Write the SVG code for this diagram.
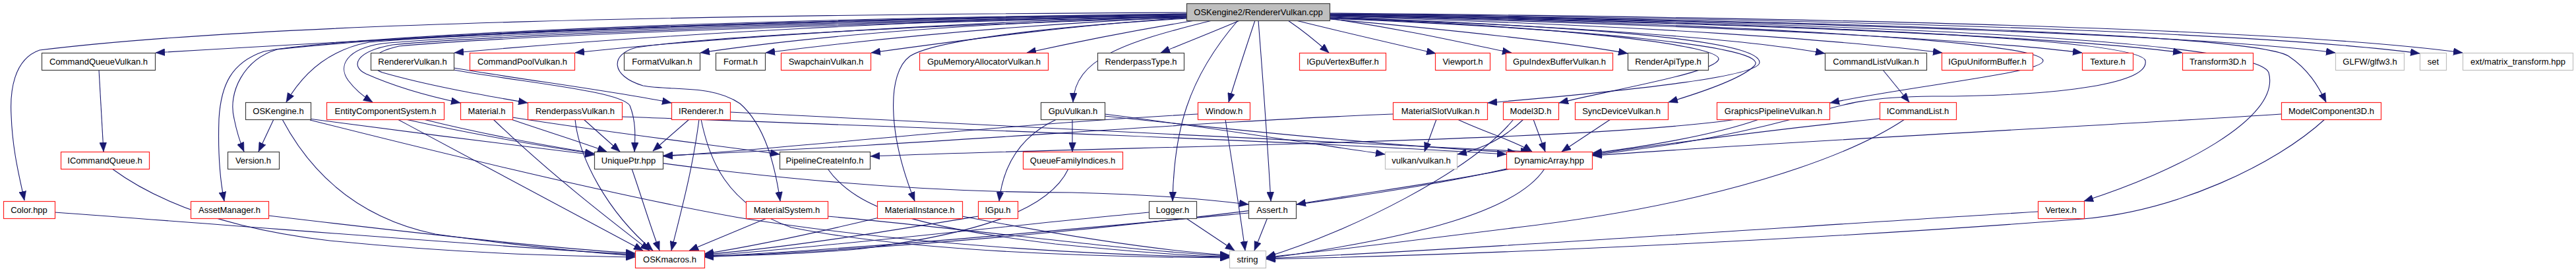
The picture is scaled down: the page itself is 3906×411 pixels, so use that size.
<svg xmlns="http://www.w3.org/2000/svg" width="3906" height="411" viewBox="0 0 3906 411">
<style>
.n rect{stroke-width:1.2}
.k rect{fill:#fff;stroke:#404040}
.r rect{fill:#fff;stroke:#ff2020}
.g rect{fill:#fff;stroke:#bfbfbf}
.root rect{fill:#bfbfbf;stroke:#404040}
text{font-family:"Liberation Sans",Arial,Helvetica,sans-serif;font-size:13px;fill:#000;text-anchor:middle}
#edges path{fill:none;stroke:#191970;stroke-width:1.1;marker-end:url(#ah)}
</style>
<defs>
<marker id="ah" markerUnits="userSpaceOnUse" markerWidth="15" markerHeight="11" refX="14" refY="5.5" orient="auto">
<path d="M0,0 L14,5.5 L0,11 z" fill="#191970" stroke="#191970" stroke-width="0.5"/>
</marker>
</defs>
<rect width="3906" height="411" fill="#fff"/>
<g id="edges">
<path d="M1799,21 C1100,30 600,58 236,80"/>
<path d="M1799,19 C1100,22 400,34 60,76 C20,90 15,140 17,175 C19,230 30,270 37,304"/>
<path d="M1799,22 C1400,30 1000,52 689,80"/>
<path d="M1799,24 C1500,32 1100,55 872,80"/>
<path d="M1799,25 C1500,34 1250,52 1062,80"/>
<path d="M1799,26 C1550,37 1350,56 1161,80"/>
<path d="M1799,27 C1650,36 1480,58 1321,80"/>
<path d="M1812,31 C1720,46 1630,64 1557,80"/>
<path d="M1880,31 C1840,48 1800,64 1760,80"/>
<path d="M1953,31 C1975,46 1995,62 2015,80"/>
<path d="M1965,31 C2050,52 2120,68 2177,81"/>
<path d="M2016,28 C2150,48 2230,68 2292,80"/>
<path d="M2016,29 C2200,45 2380,65 2468,81"/>
<path d="M2016,27 C2400,40 2650,60 2767,81"/>
<path d="M2016,25 C2500,38 2800,62 2945,80"/>
<path d="M2016,24 C2600,38 3000,60 3157,80"/>
<path d="M2016,23 C2700,36 3150,58 3309,80"/>
<path d="M2016,22 C2800,33 3350,55 3541,80"/>
<path d="M2016,21 C2900,30 3450,52 3669,81"/>
<path d="M2016,20 C2900,28 3500,48 3734,80"/>
<path d="M1799,23 C1200,30 700,52 560,64 C500,75 460,110 434,155"/>
<path d="M1799,24 C1200,32 700,54 580,66 C525,74 512,100 528,122 C540,138 552,147 565,155"/>
<path d="M1799,25 C1200,34 720,56 595,68 C540,78 530,100 555,112 C600,132 650,146 698,156"/>
<path d="M1799,26 C1200,36 730,58 605,70 C560,80 552,100 580,110 C650,130 730,144 800,156"/>
<path d="M688,103 C800,122 930,138 1018,156"/>
<path d="M688,106 C800,126 940,138 955,160 C965,185 963,210 962,230"/>
<path d="M1799,27 C1400,38 1060,57 965,72 C925,82 925,115 975,130 C1020,138 1080,128 1122,157 C1160,190 1175,250 1183,305"/>
<path d="M1799,28 C1600,40 1420,60 1380,85 C1345,110 1345,200 1387,305"/>
<path d="M1838,31 C1700,65 1630,90 1627,155"/>
<path d="M1903,31 C1890,70 1875,115 1863,155"/>
<path d="M1877,31 C1800,120 1780,200 1778,305"/>
<path d="M1908,31 C1915,120 1922,220 1927,305"/>
<path d="M1799,22 C1000,33 600,55 420,75 C370,90 345,140 355,180 C360,205 365,218 370,230"/>
<path d="M1799,21 C1000,30 500,58 400,78 C350,95 335,130 332,180 C330,240 335,280 340,305"/>
<path d="M2016,26 C2400,40 2670,60 2668,95 C2666,115 2500,135 2256,156"/>
<path d="M2016,27 C2400,42 2610,70 2606,90 C2600,110 2450,135 2364,156"/>
<path d="M2016,28 C2400,44 2690,70 2660,100 C2640,120 2580,140 2530,155"/>
<path d="M2016,24 C2600,34 3095,62 3098,92 C3100,110 2900,130 2775,156"/>
<path d="M2016,23 C2700,34 3245,58 3253,92 C3260,130 3100,146 2930,146 C2820,147 2790,160 2720,180 C2600,212 2500,225 2415,235"/>
<path d="M2016,22 C2800,34 3420,60 3440,110 C3460,180 3300,260 3160,305"/>
<path d="M2016,21 C2900,34 3420,55 3470,85 C3500,105 3515,130 3527,155"/>
<path d="M150,106 L157,230"/>
<path d="M170,256 C230,300 330,345 500,365 C700,385 850,388 963,390"/>
<path d="M83,322 C400,345 800,378 963,386"/>
<path d="M407,327 C600,350 850,378 963,384"/>
<path d="M415,181 L392,230"/>
<path d="M428,181 C470,260 540,330 660,355 C800,375 900,383 963,388"/>
<path d="M468,180 C600,198 780,220 901,235"/>
<path d="M470,182 C700,240 950,300 1120,330 C1400,375 1700,388 1864,390"/>
<path d="M603,181 C750,260 900,340 975,380"/>
<path d="M615,181 C700,200 820,222 901,233"/>
<path d="M642,181 C900,245 1300,292 1625,292 C1750,295 1830,302 1893,310"/>
<path d="M748,181 C830,260 920,330 985,380"/>
<path d="M772,180 C830,200 880,215 920,230"/>
<path d="M777,178 C950,205 1100,222 1182,234"/>
<path d="M943,177 C1300,190 2000,215 2284,234"/>
<path d="M872,181 C878,240 920,320 990,380"/>
<path d="M885,181 L940,230"/>
<path d="M1045,181 L990,229"/>
<path d="M1060,181 C1050,260 1030,330 1018,380"/>
<path d="M1063,181 C1075,240 1100,310 1200,345 C1400,385 1700,390 1864,391"/>
<path d="M1107,170 C1400,185 2000,215 2320,230"/>
<path d="M958,256 C970,290 985,340 1000,380"/>
<path d="M1255,256 C1300,320 1400,345 1600,370 C1750,385 1820,389 1864,389"/>
<path d="M1165,330 L1045,380"/>
<path d="M1255,328 C1500,350 1700,380 1864,388"/>
<path d="M1333,330 C1250,350 1150,372 1068,385"/>
<path d="M1459,328 C1600,355 1750,380 1864,387"/>
<path d="M1483,328 C1350,350 1200,375 1068,386"/>
<path d="M1620,256 C1590,320 1480,355 1300,378 C1200,386 1120,388 1068,388"/>
<path d="M1626,181 L1626,230"/>
<path d="M1602,181 C1540,210 1520,260 1515,305"/>
<path d="M1675,173 C1850,195 2000,220 2100,234"/>
<path d="M1675,176 C1900,200 2150,225 2300,231"/>
<path d="M1858,181 C1870,260 1880,320 1888,380"/>
<path d="M1816,173 C1500,190 1200,225 1006,237"/>
<path d="M1797,330 L1872,380"/>
<path d="M1742,322 C1500,345 1250,375 1068,388"/>
<path d="M1922,330 L1902,380"/>
<path d="M1893,323 C1600,350 1300,378 1068,389"/>
<path d="M2178,181 L2160,230"/>
<path d="M2210,181 C2250,200 2300,215 2323,230"/>
<path d="M2112,173 C1800,185 1400,220 1006,236"/>
<path d="M2325,181 L2343,230"/>
<path d="M2310,181 C2280,210 2250,225 2210,234"/>
<path d="M2295,181 C2230,260 2050,350 1920,390"/>
<path d="M2442,181 L2368,230"/>
<path d="M2667,181 C2600,205 2480,225 2415,232"/>
<path d="M2633,181 C2400,215 1700,222 1320,237"/>
<path d="M2855,106 L2895,155"/>
<path d="M2850,180 C2700,195 2500,222 2415,234"/>
<path d="M2888,181 C2800,240 2600,310 2300,345 C2100,370 1980,385 1920,390"/>
<path d="M2290,256 C2200,275 2050,295 1966,310"/>
<path d="M2342,256 C2300,320 2150,360 1920,392"/>
<path d="M2284,256 C2100,300 1600,365 1068,390"/>
<path d="M3090,321 C2700,345 2200,380 1920,392"/>
<path d="M3459,173 C3200,190 2700,215 2415,236"/>
<path d="M3525,181 C3450,250 3300,320 3158,332 C2800,360 2300,385 1920,393"/>
</g>
<g id="n0" class="n root"><rect x="1799.5" y="5.5" width="217" height="26"/><text x="1908" y="23">OSKengine2/RendererVulkan.cpp</text></g>
<g id="n1" class="n k"><rect x="63.5" y="80.5" width="172" height="26"/><text x="149.5" y="98">CommandQueueVulkan.h</text></g>
<g id="n2" class="n k"><rect x="562.5" y="80.5" width="126" height="26"/><text x="625.5" y="98">RendererVulkan.h</text></g>
<g id="n3" class="n r"><rect x="712.5" y="80.5" width="159" height="26"/><text x="792" y="98">CommandPoolVulkan.h</text></g>
<g id="n4" class="n k"><rect x="946.5" y="80.5" width="115" height="26"/><text x="1004" y="98">FormatVulkan.h</text></g>
<g id="n5" class="n k"><rect x="1085.5" y="80.5" width="75" height="26"/><text x="1123" y="98">Format.h</text></g>
<g id="n6" class="n r"><rect x="1184.5" y="80.5" width="136" height="26"/><text x="1252.5" y="98">SwapchainVulkan.h</text></g>
<g id="n7" class="n r"><rect x="1394.5" y="80.5" width="195" height="26"/><text x="1492" y="98">GpuMemoryAllocatorVulkan.h</text></g>
<g id="n8" class="n k"><rect x="1664.5" y="80.5" width="131" height="26"/><text x="1730" y="98">RenderpassType.h</text></g>
<g id="n9" class="n r"><rect x="1970.5" y="80.5" width="131" height="26"/><text x="2036" y="98">IGpuVertexBuffer.h</text></g>
<g id="n10" class="n r"><rect x="2176.5" y="80.5" width="83" height="26"/><text x="2218" y="98">Viewport.h</text></g>
<g id="n11" class="n r"><rect x="2283.5" y="80.5" width="162" height="26"/><text x="2364.5" y="98">GpuIndexBufferVulkan.h</text></g>
<g id="n12" class="n k"><rect x="2468.5" y="80.5" width="122" height="26"/><text x="2529.5" y="98">RenderApiType.h</text></g>
<g id="n13" class="n k"><rect x="2767.5" y="80.5" width="154" height="26"/><text x="2844.5" y="98">CommandListVulkan.h</text></g>
<g id="n14" class="n r"><rect x="2944.5" y="80.5" width="138" height="26"/><text x="3013.5" y="98">IGpuUniformBuffer.h</text></g>
<g id="n15" class="n r"><rect x="3157.5" y="80.5" width="77" height="26"/><text x="3196" y="98">Texture.h</text></g>
<g id="n16" class="n r"><rect x="3309.5" y="80.5" width="107" height="26"/><text x="3363" y="98">Transform3D.h</text></g>
<g id="n17" class="n g"><rect x="3541.5" y="80.5" width="104" height="26"/><text x="3593.5" y="98">GLFW/glfw3.h</text></g>
<g id="n18" class="n g"><rect x="3669.5" y="80.5" width="40" height="26"/><text x="3689.5" y="98">set</text></g>
<g id="n19" class="n g"><rect x="3734.5" y="80.5" width="167" height="26"/><text x="3818" y="98">ext/matrix_transform.hpp</text></g>
<g id="n20" class="n k"><rect x="372.5" y="155.5" width="99" height="26"/><text x="422" y="173">OSKengine.h</text></g>
<g id="n21" class="n r"><rect x="495.5" y="155.5" width="178" height="26"/><text x="584.5" y="173">EntityComponentSystem.h</text></g>
<g id="n22" class="n r"><rect x="698.5" y="155.5" width="79" height="26"/><text x="738" y="173">Material.h</text></g>
<g id="n23" class="n r"><rect x="800.5" y="155.5" width="143" height="26"/><text x="872" y="173">RenderpassVulkan.h</text></g>
<g id="n24" class="n r"><rect x="1018.5" y="155.5" width="89" height="26"/><text x="1063" y="173">IRenderer.h</text></g>
<g id="n25" class="n k"><rect x="1578.5" y="155.5" width="97" height="26"/><text x="1627" y="173">GpuVulkan.h</text></g>
<g id="n26" class="n r"><rect x="1816.5" y="155.5" width="79" height="26"/><text x="1856" y="173">Window.h</text></g>
<g id="n27" class="n r"><rect x="2112.5" y="155.5" width="143" height="26"/><text x="2184" y="173">MaterialSlotVulkan.h</text></g>
<g id="n28" class="n r"><rect x="2279.5" y="155.5" width="84" height="26"/><text x="2321" y="173">Model3D.h</text></g>
<g id="n29" class="n r"><rect x="2388.5" y="155.5" width="141" height="26"/><text x="2458.5" y="173">SyncDeviceVulkan.h</text></g>
<g id="n30" class="n r"><rect x="2603.5" y="155.5" width="171" height="26"/><text x="2689" y="173">GraphicsPipelineVulkan.h</text></g>
<g id="n31" class="n r"><rect x="2850.5" y="155.5" width="116" height="26"/><text x="2908" y="173">ICommandList.h</text></g>
<g id="n32" class="n r"><rect x="3459.5" y="155.5" width="151" height="26"/><text x="3535" y="173">ModelComponent3D.h</text></g>
<g id="n33" class="n r"><rect x="92.5" y="230.5" width="134" height="26"/><text x="159" y="248">ICommandQueue.h</text></g>
<g id="n34" class="n k"><rect x="345.5" y="230.5" width="78" height="26"/><text x="384" y="248">Version.h</text></g>
<g id="n35" class="n k"><rect x="901.5" y="230.5" width="104" height="26"/><text x="953" y="248">UniquePtr.hpp</text></g>
<g id="n36" class="n k"><rect x="1182.5" y="230.5" width="137" height="26"/><text x="1250.5" y="248">PipelineCreateInfo.h</text></g>
<g id="n37" class="n r"><rect x="1551.5" y="230.5" width="151" height="26"/><text x="1626.5" y="248">QueueFamilyIndices.h</text></g>
<g id="n38" class="n g"><rect x="2100.5" y="230.5" width="109" height="26"/><text x="2155" y="248">vulkan/vulkan.h</text></g>
<g id="n39" class="n r"><rect x="2284.5" y="230.5" width="130" height="26"/><text x="2349" y="248">DynamicArray.hpp</text></g>
<g id="n40" class="n r"><rect x="5.5" y="305.5" width="78" height="26"/><text x="44" y="323">Color.hpp</text></g>
<g id="n41" class="n r"><rect x="289.5" y="305.5" width="118" height="26"/><text x="348" y="323">AssetManager.h</text></g>
<g id="n42" class="n r"><rect x="1131.5" y="305.5" width="124" height="26"/><text x="1193" y="323">MaterialSystem.h</text></g>
<g id="n43" class="n r"><rect x="1330.5" y="305.5" width="129" height="26"/><text x="1394.5" y="323">MaterialInstance.h</text></g>
<g id="n44" class="n r"><rect x="1483.5" y="305.5" width="60" height="26"/><text x="1513" y="323">IGpu.h</text></g>
<g id="n45" class="n k"><rect x="1742.5" y="305.5" width="72" height="26"/><text x="1778" y="323">Logger.h</text></g>
<g id="n46" class="n k"><rect x="1893.5" y="305.5" width="72" height="26"/><text x="1929" y="323">Assert.h</text></g>
<g id="n47" class="n r"><rect x="3090.5" y="305.5" width="70" height="26"/><text x="3125" y="323">Vertex.h</text></g>
<g id="n48" class="n r"><rect x="963.5" y="380.5" width="105" height="26"/><text x="1015.5" y="398">OSKmacros.h</text></g>
<g id="n49" class="n g"><rect x="1864.5" y="380.5" width="55" height="26"/><text x="1891.5" y="398">string</text></g>
</svg>
